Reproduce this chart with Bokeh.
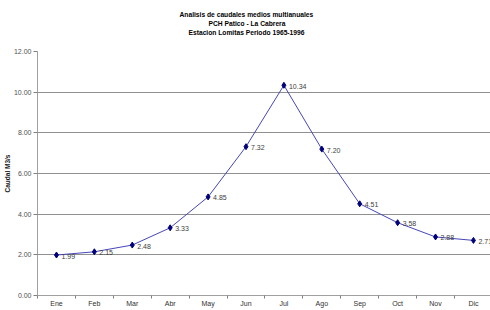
from bokeh.plotting import figure
from bokeh.models import ColumnDataSource, FixedTicker, Range1d, NumeralTickFormatter, Title
from bokeh.core.properties import value
from bokeh.embed import file_html
from bokeh.resources import INLINE

months = ["Ene", "Feb", "Mar", "Abr", "May", "Jun", "Jul", "Ago", "Sep", "Oct", "Nov", "Dic"]
caudal = [1.99, 2.15, 2.48, 3.33, 4.85, 7.32, 10.34, 7.20, 4.51, 3.58, 2.88, 2.71]
labels = ["%.2f" % v for v in caudal]
y_ticks = [0, 2, 4, 6, 8, 10, 12]
title_lines = ["Analisis de caudales medios multianuales",
               "PCH Patico - La Cabrera",
               "Estacion Lomitas Periodo 1965-1996"]

idx = list(range(len(months)))
src = ColumnDataSource(data=dict(x=idx, y=caudal, lab=labels))

FONT = "Liberation Sans"

p = figure(width=490, height=309, output_backend="svg", toolbar_location=None,
           x_range=Range1d(-0.5, 11.45), y_range=Range1d(0, 12),
           min_border_left=34, min_border_right=0, min_border_top=51, min_border_bottom=0)

# spacer between the plot and the three title lines
p.add_layout(Title(text=" ", text_font_size="2px", standoff=12), "above")
# title lines, each centred (bottom line added first so it sits nearest the plot)
title_offsets = [142, 171, 151]
for i in (2, 1, 0):
    t = Title(text=title_lines[i], align="left", offset=title_offsets[i],
              text_font=FONT, text_font_size="6.7px", text_font_style="bold",
              text_color="#000000", standoff=0, text_line_height=1.0)
    p.add_layout(t, "above")

p.outline_line_color = None
p.background_fill_color = "white"

# x axis
p.xaxis.axis_label = None
p.xaxis.ticker = FixedTicker(ticks=idx, minor_ticks=[i - 0.5 for i in range(len(months) + 1)])
p.xaxis.major_label_overrides = {i: m for i, m in zip(idx, months)}
p.xaxis.major_tick_out = 0
p.xaxis.major_tick_in = 0
p.xaxis.minor_tick_out = 3
p.xaxis.minor_tick_in = 0
p.xaxis.minor_tick_line_color = "#808080"
p.xaxis.axis_line_color = "#a0a0a0"
p.xaxis.major_label_standoff = 1
p.xaxis.axis_label_standoff = 0
p.xaxis.major_label_text_font = FONT
p.xaxis.major_label_text_font_size = "7px"
p.xaxis.major_label_text_color = "#303030"

# y axis
p.yaxis.ticker = FixedTicker(ticks=y_ticks)
p.yaxis.formatter = NumeralTickFormatter(format="0.00")
p.yaxis.major_tick_out = 4
p.yaxis.major_tick_in = 0
p.yaxis.minor_tick_line_color = None
p.yaxis.major_tick_line_color = "#808080"
p.yaxis.axis_line_color = "#a0a0a0"
p.yaxis.major_label_standoff = 2
p.yaxis.major_label_text_font = FONT
p.yaxis.major_label_text_font_size = "7px"
p.yaxis.major_label_text_color = "#505050"
p.yaxis.axis_label = "Caudal M3/s"
p.yaxis.axis_label_text_font = FONT
p.yaxis.axis_label_text_font_size = "6.5px"
p.yaxis.axis_label_text_font_style = "bold"
p.yaxis.axis_label_text_color = "#202020"
p.yaxis.axis_label_standoff = 0

p.xgrid.grid_line_color = None
p.ygrid.ticker = FixedTicker(ticks=y_ticks)
p.ygrid.grid_line_color = "#909090"
p.ygrid.grid_line_width = 1

p.line("x", "y", source=src, line_color="#4646b8", line_width=1)
p.scatter("x", "y", source=src, marker="diamond", size=6, color="#00007a")
p.text("x", "y", text="lab", source=src, x_offset=5, y_offset=1,
       text_font=value(FONT), text_font_size="7px", text_color="#404040",
       text_baseline="middle", text_align="left")

open("out.html", "w").write(file_html(p, INLINE))
